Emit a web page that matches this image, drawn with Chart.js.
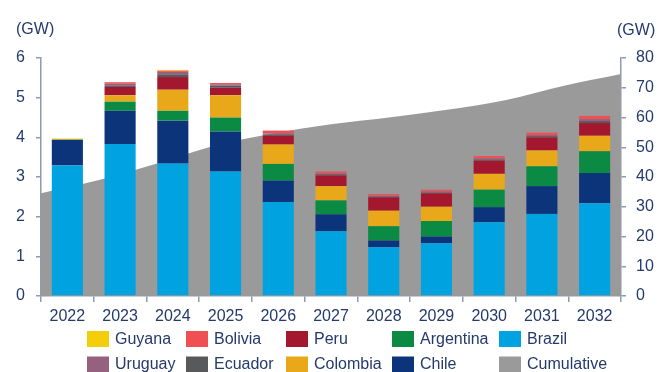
<!DOCTYPE html>
<html>
<head>
<meta charset="utf-8">
<script src="https://cdn.jsdelivr.net/npm/chart.js@4/dist/chart.umd.min.js"></script>
<style>
html,body{margin:0;padding:0;background:#fff;}
#wrap{width:672px;height:372px;position:relative;}
</style>
</head>
<body>
<div id="wrap"><canvas id="c" width="672" height="372"></canvas></div>
<script>
const years = ["2022","2023","2024","2025","2026","2027","2028","2029","2030","2031","2032"];
const brazil    = [3.29,3.83,3.34,3.14,2.37,1.63,1.23,1.33,1.86,2.07,2.34];
const chile     = [0.65,0.84,1.08,1.01,0.54,0.43,0.17,0.17,0.38,0.70,0.76];
const argentina = [0.00,0.23,0.25,0.35,0.42,0.35,0.36,0.39,0.44,0.50,0.55];
const colombia  = [0.00,0.16,0.53,0.56,0.49,0.36,0.39,0.36,0.40,0.40,0.39];
const peru      = [0.00,0.21,0.32,0.19,0.22,0.27,0.34,0.34,0.33,0.33,0.32];
const ecuador   = [0.00,0.04,0.07,0.05,0.03,0.03,0.02,0.02,0.03,0.03,0.05];
const uruguay   = [0.00,0.04,0.06,0.04,0.03,0.02,0.02,0.03,0.03,0.03,0.05];
const bolivia   = [0.00,0.04,0.03,0.03,0.07,0.05,0.04,0.04,0.06,0.06,0.08];
const guyana    = [0.03,0.00,0.02,0.00,0.00,0.00,0.00,0.00,0.00,0.00,0.00];
const cumulative = [34.5,39.0,44.5,50.6,54.6,57.7,60.0,62.6,65.8,70.6,74.6];
const leftTicks = [0,1,2,3,4,5,6];
const rightTicks = [0,10,20,30,40,50,60,70,80];
const unitLabel = "(GW)";
const legendOrder = ["Guyana","Bolivia","Peru","Argentina","Brazil","Uruguay","Ecuador","Colombia","Chile","Cumulative"];

const TXT = "#243A6C";
const AX = "#8E9AB0";
const FONT = "'Liberation Sans', Arial, sans-serif";

const colors = {
  Brazil:"#00A3E0", Chile:"#0B347A", Argentina:"#0A8A43", Colombia:"#E9A81A",
  Peru:"#A3182F", Ecuador:"#58595B", Uruguay:"#96607F", Bolivia:"#F04F53",
  Guyana:"#F2CF0A", Cumulative:"#9A9A9A"
};

function bar(label, data){
  return {type:"bar", label, data, backgroundColor:colors[label], borderWidth:0,
          xAxisID:"x", yAxisID:"y", stack:"s", order:1, grouped:false,
          categoryPercentage:1.0, barPercentage:0.59};
}

const datasets = [
  bar("Brazil",brazil), bar("Chile",chile), bar("Argentina",argentina),
  bar("Colombia",colombia), bar("Peru",peru), bar("Ecuador",ecuador),
  bar("Uruguay",uruguay), bar("Bolivia",bolivia), bar("Guyana",guyana),
  {type:"line", label:"Cumulative", data:cumulative, xAxisID:"x2", yAxisID:"y2",
   backgroundColor:colors.Cumulative, borderColor:colors.Cumulative, borderWidth:0,
   fill:"origin", pointRadius:0, cubicInterpolationMode:"monotone", order:2}
];

const overlay = {
  id:"overlay",
  afterDraw(chart){
    const ctx = chart.ctx;
    ctx.save();
    ctx.fillStyle = TXT;
    ctx.font = "16px " + FONT;
    ctx.textBaseline = "middle";
    ctx.textAlign = "left";
    ctx.fillText(unitLabel, 16, 30);
    ctx.fillText(unitLabel, 617, 31);
    const cols = [87,186,286,392,499];
    const rows = [339,364.5];
    legendOrder.forEach((name,i)=>{
      const ds = chart.data.datasets.find(d=>d.label===name);
      const x = cols[i%5], y = rows[Math.floor(i/5)];
      ctx.fillStyle = ds.backgroundColor;
      ctx.fillRect(x, y-8, 22, 16);
      ctx.fillStyle = TXT;
      ctx.fillText(ds.label, x+28, y+0.5);
    });
    ctx.restore();
  }
};

new Chart(document.getElementById("c"), {
  type:"bar",
  data:{labels:years, datasets},
  options:{
    responsive:false, animation:false,
    layout:{padding:{top:58,left:0,right:0,bottom:0}},
    plugins:{legend:{display:false}, tooltip:{enabled:false}},
    scales:{
      x:{type:"category", stacked:true, offset:true,
         grid:{display:true, drawOnChartArea:false, offset:true, tickLength:6, color:AX, lineWidth:1.5},
         border:{color:AX, width:1.5},
         ticks:{color:TXT, font:{family:FONT,size:16}, padding:5, maxRotation:0, autoSkip:false},
         afterFit(s){ s.height = 76; }},
      x2:{type:"category", labels:years, offset:false, display:false},
      y:{position:"left", stacked:true, min:0, max:6,
         afterBuildTicks(s){ s.ticks = leftTicks.map(v=>({value:v})); },
         grid:{drawOnChartArea:false, tickLength:5, color:AX, lineWidth:1.5},
         border:{color:AX, width:1.5},
         ticks:{color:TXT, font:{family:FONT,size:16}, padding:11},
         afterFit(s){ s.width = 41; }},
      y2:{position:"right", min:0, max:80,
         afterBuildTicks(s){ s.ticks = rightTicks.map(v=>({value:v})); },
         grid:{drawOnChartArea:false, tickLength:5, color:AX, lineWidth:1.5},
         border:{color:AX, width:1.5},
         ticks:{color:TXT, font:{family:FONT,size:16}, padding:10},
         afterFit(s){ s.width = 51; }}
    }
  },
  plugins:[overlay]
});
</script>
</body>
</html>
